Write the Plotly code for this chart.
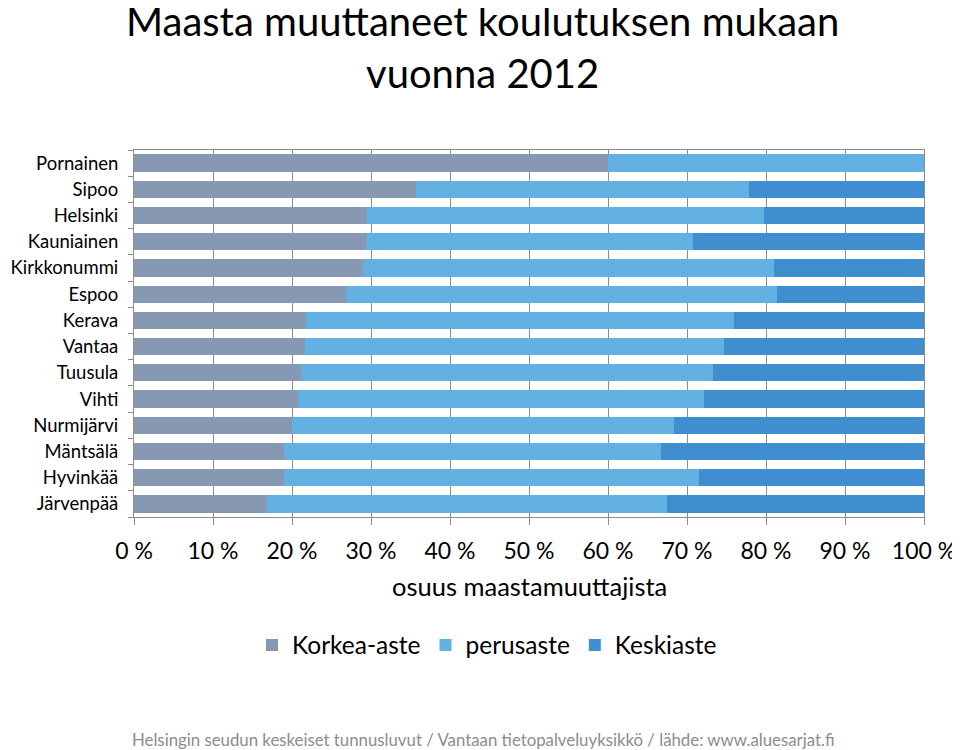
import plotly.graph_objects as go

municipalities = ["Pornainen", "Sipoo", "Helsinki", "Kauniainen", "Kirkkonummi", "Espoo",
                  "Kerava", "Vantaa", "Tuusula", "Vihti", "Nurmijärvi", "Mäntsälä",
                  "Hyvinkää", "Järvenpää"]
korkea_aste = [60.0, 35.7, 29.5, 29.4, 29.0, 26.8, 21.8, 21.7, 21.1, 20.8, 20.0, 19.0, 19.0, 16.8]
perusaste = [40.0, 42.2, 50.3, 41.3, 52.0, 54.6, 54.1, 53.0, 52.2, 51.4, 48.4, 47.7, 52.5, 50.7]
keskiaste = [0.0, 22.1, 20.2, 29.3, 19.0, 18.6, 24.1, 25.3, 26.7, 27.8, 31.6, 33.3, 28.5, 32.5]
x_ticks = [0, 10, 20, 30, 40, 50, 60, 70, 80, 90, 100]
x_tick_labels = [f"{v} %" for v in x_ticks]

FONT = "Lato"
OFF = 8  # browser body margin
W, H = 960 - OFF, 750 - OFF
L, R, T, B = 134 - OFF, 36, 150 - OFF, 233
pw = W - L - R
ph = H - T - B


def px_to_paper(xp, yp):
    # xp, yp: screen pixel coordinates
    return (xp - OFF - L) / pw, (H - B - (yp - OFF)) / ph


fig = go.Figure()
for name, vals, col in [("Korkea-aste", korkea_aste, "#8799B2"),
                        ("perusaste", perusaste, "#63B0E3"),
                        ("Keskiaste", keskiaste, "#3F8FD0")]:
    fig.add_trace(go.Bar(y=municipalities, x=vals, name=name, orientation="h",
                         marker=dict(color=col, line=dict(width=0))))

a1x, a1y = px_to_paper(482, 21)
a2x, a2y = px_to_paper(482, 73)
bx, by = px_to_paper(483, 739)
lx, ly = px_to_paper(487, 645)
tx, ty = px_to_paper(529, 586)

fig.update_layout(
    barmode="stack", bargap=0.34,
    width=W, height=H,
    paper_bgcolor="white", plot_bgcolor="white",
    margin=dict(l=L, r=R, t=T, b=B, autoexpand=False),
    font=dict(family=FONT, color="#000000"),
    showlegend=True,
    legend=dict(orientation="h", x=lx, xanchor="center", y=ly, yanchor="middle",
                font=dict(size=24.5, family=FONT), traceorder="normal", itemwidth=30),
    xaxis=dict(range=[0, 100], tickvals=x_ticks, ticktext=x_tick_labels, automargin=False,
               tickfont=dict(size=23, family=FONT), showgrid=True, gridcolor="#8C8C8C",
               gridwidth=1, ticks="outside", ticklen=7, tickcolor="#8C8C8C",
               ticklabelstandoff=6,
               showline=True, linecolor="#8C8C8C", mirror=True, zeroline=False),
    yaxis=dict(categoryorder="array", categoryarray=municipalities[::-1], automargin=False,
               tickfont=dict(size=18.5, family=FONT), ticks="outside", tickson="boundaries",
               ticklen=5, tickcolor="#8C8C8C", showline=True, linecolor="#8C8C8C",
               ticklabelstandoff=11,
               mirror=True, showgrid=False),
    annotations=[
        dict(text="Maasta muuttaneet koulutuksen mukaan", x=a1x, y=a1y,
             xref="paper", yref="paper", xanchor="center", yanchor="middle",
             showarrow=False, font=dict(size=40, family=FONT)),
        dict(text="vuonna 2012", x=a2x, y=a2y,
             xref="paper", yref="paper", xanchor="center", yanchor="middle",
             showarrow=False, font=dict(size=40, family=FONT)),
        dict(text="osuus maastamuuttajista", x=tx, y=ty, xref="paper", yref="paper",
             xanchor="center", yanchor="middle", showarrow=False,
             font=dict(size=25.5, family=FONT)),
        dict(text="Helsingin seudun keskeiset tunnusluvut / Vantaan tietopalveluyksikkö / lähde: www.aluesarjat.fi",
             x=bx, y=by, xref="paper", yref="paper", xanchor="center", yanchor="middle",
             showarrow=False, font=dict(size=16.8, family=FONT, color="#8C8C8C")),
    ],
)

fig.write_html("out.html")
